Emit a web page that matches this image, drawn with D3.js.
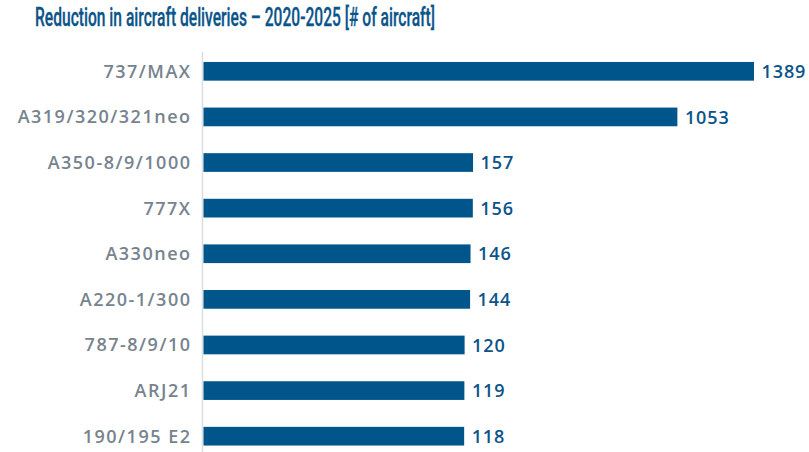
<!DOCTYPE html>
<html><head><meta charset="utf-8">
<script src="https://cdn.jsdelivr.net/npm/d3@7"></script>
<style>body{margin:0;background:#fff}svg{display:block}</style>
</head><body>
<script>
const categories = ["737/MAX","A319/320/321neo","A350-8/9/1000","777X","A330neo","A220-1/300","787-8/9/10","ARJ21","190/195 E2"];
const values = [1389,1053,157,156,146,144,120,119,118];
const title = "Reduction in aircraft deliveries \u2013 2020-2025 [# of aircraft]";

const W = 809, H = 452;
const svg = d3.select("body").append("svg").attr("width", W).attr("height", H);

const x = d3.scaleLinear().domain([-1025, 1389]).range([203.5, 754]);
const y = d3.scaleBand().domain(categories).range([48.5, 459]).paddingInner(0.59).paddingOuter(0.295);

svg.append("text").attr("x", 35).attr("y", 25.5)
  .attr("font-family", "Roboto, 'Open Sans', sans-serif").attr("font-weight", 500)
  .attr("font-size", 25.5).attr("fill", "#0b5489")
  .attr("stroke", "#0b5489").attr("stroke-width", 0.3)
  .attr("textLength", 400).attr("lengthAdjust", "spacingAndGlyphs")
  .text(title);

svg.append("line").attr("x1", 202.5).attr("x2", 202.5).attr("y1", 52).attr("y2", 452)
  .attr("stroke", "#d9dee3").attr("stroke-width", 1.5);

const data = categories.map((c, i) => ({c, v: values[i]}));

svg.selectAll("rect.bar").data(data).join("rect").attr("class", "bar")
  .attr("x", x.range()[0]).attr("y", d => y(d.c))
  .attr("width", d => x(d.v) - x.range()[0]).attr("height", y.bandwidth())
  .attr("fill", "#00568b");

const yAxis = d3.axisLeft(y).tickSize(0).tickPadding(12);
const gy = svg.append("g").attr("transform", "translate(203.5,0)").call(yAxis);
gy.select(".domain").remove();
gy.selectAll("text").attr("font-family", "'Open Sans', sans-serif")
  .attr("font-weight", 600).attr("font-size", 18).attr("fill", "#77838e")
  .attr("dy", "0.36em").style("letter-spacing", "1.5px");

svg.selectAll("text.val").data(data).join("text").attr("class", "val")
  .attr("x", d => x(d.v) + 7.5).attr("y", d => y(d.c) + y.bandwidth() / 2)
  .attr("dy", "0.37em")
  .attr("font-family", "'Open Sans', sans-serif").attr("font-weight", 600)
  .attr("font-size", 18).attr("fill", "#0b5489").style("letter-spacing", "0.9px")
  .text(d => d.v);
</script>
</body></html>
